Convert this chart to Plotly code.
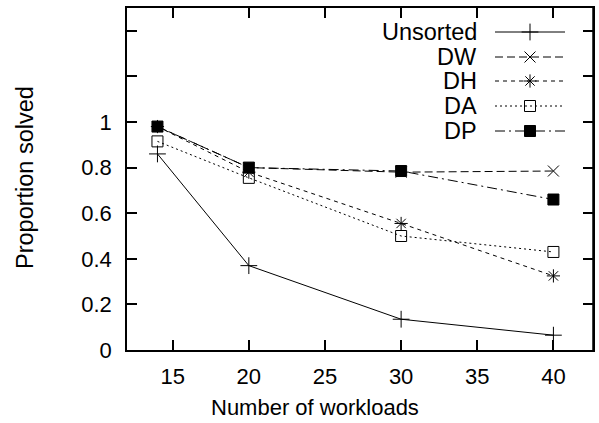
import plotly.graph_objects as go

# ---- data ----
workloads = [14, 20, 30, 40]
series_names = ["Unsorted", "DW", "DH", "DA", "DP"]
unsorted = [0.86, 0.37, 0.135, 0.065]
dw = [0.98, 0.80, 0.78, 0.785]
dh = [0.98, 0.78, 0.555, 0.325]
da = [0.915, 0.755, 0.50, 0.43]
dp = [0.98, 0.80, 0.785, 0.66]
x_ticks = [15, 20, 25, 30, 35, 40]
y_ticks = [0, 0.2, 0.4, 0.6, 0.8, 1.0, 1.2, 1.4]
y_ticktext = ["0", "0.2", "0.4", "0.6", "0.8", "1", "", ""]

FONT = "Liberation Sans, Arial, sans-serif"
FS = 22
FS_YT = 23.5
FS_KEY = 23.5

X_RANGE = [12, 42.6]
Y_RANGE = [0, 1.5]
# plot area in pixels: left 127, right 593, top 8, bottom 350
PL, PR, PT, PB = 127, 593, 8, 350


def px_to_x(px):
    return X_RANGE[0] + (px - PL) / (PR - PL) * (X_RANGE[1] - X_RANGE[0])


def px_to_y(py):
    return Y_RANGE[0] + (PB - py) / (PB - PT) * (Y_RANGE[1] - Y_RANGE[0])


def px_to_paper_x(px):
    return (px - PL) / (PR - PL)


def px_to_paper_y(py):
    return (PB - py) / (PB - PT)


styles = {
    "Unsorted": dict(dash="solid", symbol="cross-thin-open", size=12),
    "DW": dict(dash="8px,4px", symbol="x-thin-open", size=11),
    "DH": dict(dash="4px,4px", symbol="asterisk-open", size=11),
    "DA": dict(dash="2px,3px", symbol="square-open", size=11),
    "DP": dict(dash="10px,4px,2px,4px", symbol="square", size=11),
}
values = {"Unsorted": unsorted, "DW": dw, "DH": dh, "DA": da, "DP": dp}

fig = go.Figure()
for name in series_names:
    s = styles[name]
    fig.add_trace(go.Scatter(
        x=workloads, y=values[name], mode="lines+markers", name=name,
        line=dict(color="black", width=1, dash=s["dash"]),
        marker=dict(symbol=s["symbol"], size=s["size"], color="black",
                    line=dict(color="black", width=1)),
        showlegend=False, cliponaxis=False,
    ))

# ---- gnuplot-style key (text, then sample line with marker) ----
key_rows = [32, 57, 81, 106, 131]
key_x0, key_x1, key_xm, key_text_x = 495, 565, 530, 479
for name, yy in zip(series_names, key_rows):
    s = styles[name]
    fig.add_trace(go.Scatter(
        x=[px_to_x(key_x0), px_to_x(key_x1)], y=[px_to_y(yy), px_to_y(yy)], mode="lines",
        showlegend=False, hoverinfo="skip",
        line=dict(color="black", width=1, dash=s["dash"]),
    ))
    fig.add_trace(go.Scatter(
        x=[px_to_x(key_xm)], y=[px_to_y(yy)], mode="markers",
        showlegend=False, hoverinfo="skip",
        marker=dict(symbol=s["symbol"], size=s["size"], color="black",
                    line=dict(color="black", width=1)),
    ))
    fig.add_annotation(x=px_to_paper_x(key_text_x), y=px_to_paper_y(yy),
                       xref="paper", yref="paper", text=name,
                       showarrow=False, xanchor="right", yanchor="middle",
                       font=dict(family=FONT, size=FS_KEY, color="black"))

# axis titles
fig.add_annotation(x=px_to_paper_x(25), y=px_to_paper_y(178), xref="paper", yref="paper",
                   text="Proportion solved", textangle=-90, showarrow=False,
                   xanchor="center", yanchor="middle",
                   font=dict(family=FONT, size=FS_YT, color="black"))
fig.add_annotation(x=px_to_paper_x(315), y=px_to_paper_y(407), xref="paper", yref="paper",
                   text="Number of workloads", showarrow=False,
                   xanchor="center", yanchor="middle",
                   font=dict(family=FONT, size=FS, color="black"))

# right frame edge (drawn explicitly)
fig.add_shape(type="line", xref="paper", yref="paper", x0=1, x1=1, y0=0, y1=1,
              line=dict(color="black", width=1.5), layer="above")

fig.update_layout(
    width=599, height=423,
    margin=dict(l=PL, r=599 - PR, t=PT, b=423 - PB),
    paper_bgcolor="white", plot_bgcolor="white",
    font=dict(family=FONT, size=FS, color="black"),
    xaxis=dict(range=X_RANGE, tickvals=x_ticks, ticks="inside", ticklen=10,
               tickwidth=1.5, tickcolor="black", showline=True, linecolor="black",
               linewidth=1.5, mirror="ticks", showgrid=False, zeroline=False,
               automargin=False, ticklabelstandoff=6),
    yaxis=dict(range=Y_RANGE, tickvals=y_ticks, ticktext=y_ticktext, ticks="inside",
               ticklen=10, tickwidth=1.5, tickcolor="black", showline=True,
               linecolor="black", linewidth=1.5, mirror="ticks", showgrid=False,
               zeroline=False, automargin=False, ticklabelstandoff=9),
)

fig.write_html(
    "out.html", config={"displayModeBar": False},
    post_script=("document.documentElement.style.overflow='hidden';"
                 "document.body.style.margin='0';document.body.style.overflow='hidden';"
                 "document.body.style.height='423px';"
                 "window.dispatchEvent(new Event('resize'));"),
)
